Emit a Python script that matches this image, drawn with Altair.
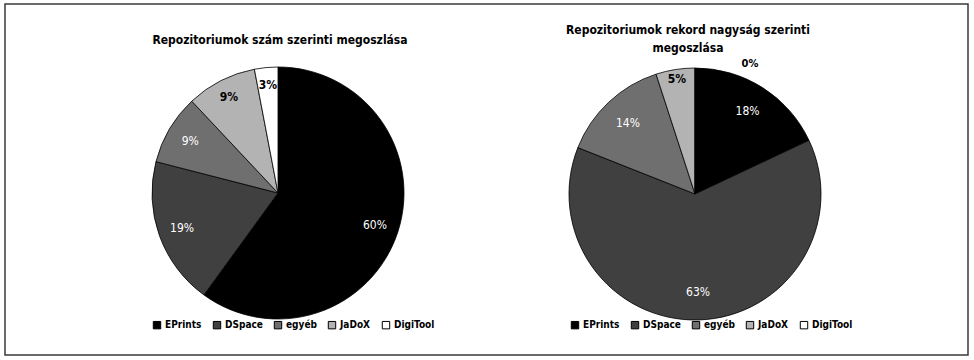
import altair as alt
import pandas as pd

categories = ["EPrints", "DSpace", "egyéb", "JaDoX", "DigiTool"]
count_share = [60, 19, 9, 9, 3]          # Repozitoriumok szám szerinti megoszlása
record_share = [18, 63, 14, 5, 0]        # Repozitoriumok rekord nagyság szerinti megoszlása
colors = ["#000000", "#404040", "#6f6f6f", "#b3b3b3", "#ffffff"]
title_left = "Repozitoriumok szám szerinti megoszlása"
title_right = "Repozitoriumok rekord nagyság szerinti\nmegoszlása"

rows = []
for i, c in enumerate(categories):
    rows.append({"pie": "left", "cat": c, "value": count_share[i], "idx": i})
    rows.append({"pie": "right", "cat": c, "value": record_share[i], "idx": i})
df = pd.DataFrame(rows)

FONT = "DejaVu Sans Condensed"
base = alt.Chart(df)
white_cats = "indexof(['EPrints','DSpace','egyéb'], datum.cat) >= 0"


def pie_layers(pie, cx, cy, legend_x, legend_y, r_white, r_bold):
    src = base.transform_filter(alt.datum.pie == pie).transform_calculate(
        wl=f"{white_cats} ? datum.value + '%' : ''",
        bl=f"{white_cats} || datum.value == 0 ? '' : datum.value + '%'",
        zl="datum.value == 0 ? datum.value + '%' : ''",
    )
    theta = alt.Theta("value:Q", stack=True)
    order = alt.Order("idx:Q")
    arc = src.mark_arc(radius=126, stroke="#000000", strokeWidth=0.8).encode(
        theta=theta,
        order=order,
        color=alt.Color(
            "cat:N",
            scale=alt.Scale(domain=categories, range=colors),
            sort=categories,
            legend=alt.Legend(
                title=None,
                orient="none",
                legendX=legend_x,
                legendY=legend_y,
                direction="horizontal",
                symbolType="square",
                symbolSize=55,
                symbolStrokeColor="#000000",
                symbolStrokeWidth=1,
                labelFont=FONT,
                labelFontWeight="bold",
                labelFontSize=10,
                labelColor="#000000",
                columnPadding=9,
                symbolOffset=0,
                labelOffset=3,
            ),
        ),
        x=alt.value(cx),
        y=alt.value(cy),
    )
    txt_w = src.mark_text(radius=r_white, font=FONT, fontSize=12, color="#ffffff").encode(
        theta=theta, order=order, text="wl:N", x=alt.value(cx), y=alt.value(cy)
    )
    txt_b = src.mark_text(radius=r_bold, font=FONT, fontSize=12, fontWeight="bold", color="#000000").encode(
        theta=theta, order=order, text="bl:N", x=alt.value(cx), y=alt.value(cy)
    )
    txt_z = src.mark_text(radius=132, dx=55, dy=2, font=FONT, fontSize=11, fontWeight="bold", color="#000000").encode(
        theta=theta, order=order, text="zl:N", x=alt.value(cx), y=alt.value(cy)
    )
    return [arc, txt_w, txt_b, txt_z]


tdf = pd.DataFrame({"t": [title_left, title_right], "side": ["left", "right"]})
title_l = alt.Chart(tdf).transform_filter(alt.datum.side == "left").mark_text(
    font=FONT, fontSize=12, fontWeight="bold", color="#000000"
).encode(text="t:N", x=alt.value(275), y=alt.value(36))
title_r = alt.Chart(tdf).transform_filter(alt.datum.side == "right").mark_text(
    font=FONT, fontSize=12, fontWeight="bold", color="#000000", lineBreak="\n", lineHeight=18
).encode(text="t:N", x=alt.value(683), y=alt.value(26))

layers = pie_layers("left", 273, 189, 147, 316, 102, 108) + pie_layers("right", 690, 190, 565, 316, 98, 116)

chart = (
    alt.layer(*layers, title_l, title_r)
    .resolve_scale(color="independent")
    .resolve_legend(color="independent")
    .properties(
        width=963,
        height=351,
        padding={"left": 5, "top": 4, "right": 6, "bottom": 5},
        autosize=alt.AutoSizeParams(type="none"),
        background="#ffffff",
    )
    .configure_view(stroke="#3a3a3a", strokeWidth=1.5)
)

chart.save("out.html", embed_options={"renderer": "svg", "actions": False})
